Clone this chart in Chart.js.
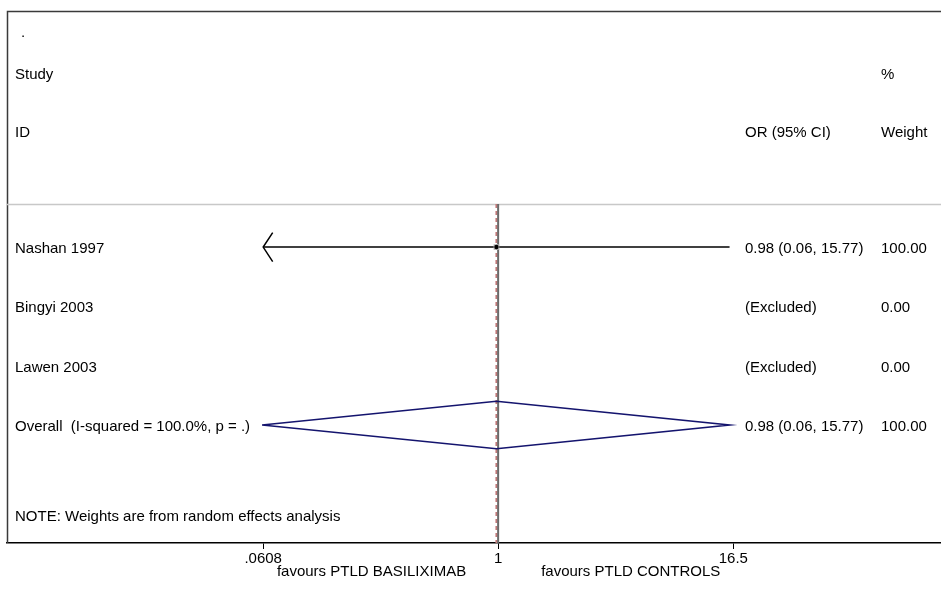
<!DOCTYPE html>
<html>
<head>
<meta charset="utf-8">
<script src="https://cdn.jsdelivr.net/npm/chart.js@4/dist/chart.umd.min.js"></script>
<style>
  html, body { margin: 0; padding: 0; background: #fff; }
</style>
</head>
<body>
<canvas id="c" width="941" height="594"></canvas>
<script>
// ---------------- data ----------------
const studies    = ['Nashan 1997', 'Bingyi 2003', 'Lawen 2003'];
const studyRows  = [1, 2, 3];
const orEst      = [0.98, null, null];
const ciLow      = [0.06, null, null];
const ciHigh     = [15.77, null, null];
const orText     = ['0.98 (0.06, 15.77)', '(Excluded)', '(Excluded)'];
const weightText = ['100.00', '0.00', '0.00'];

const overallLabel  = 'Overall  (I-squared = 100.0%, p = .)';
const overallRow    = 4;
const overallEst    = 0.98;
const overallLow    = 0.06;
const overallHigh   = 15.77;
const overallText   = '0.98 (0.06, 15.77)';
const overallWeight = '100.00';

const xTicks      = [0.0608, 1, 16.5];
const xTickLabels = ['.0608', '1', '16.5'];
const favourLeft  = 'favours PTLD BASILIXIMAB';
const favourRight = 'favours PTLD CONTROLS';
const noteText    = 'NOTE: Weights are from random effects analysis';

// ---------------- layout (not data) ----------------
const FAMILY = '"Liberation Sans", Arial, sans-serif';
const FONT = '15px ' + FAMILY;
const X_MIN = 0.00287, X_MAX = 196;
const Y_MIN = -2.98, Y_MAX = 5.99;
const ROW_HEAD_DOT = -2.574, ROW_HEAD_STUDY = -1.933, ROW_HEAD_ID = -0.955;
const ROW_SEPARATOR = 0.275, ROW_NOTE = 5.517;
const DIAMOND_HALF = 0.40;
const COL_LABEL = 15, COL_OR = 745, COL_WEIGHT = 881;
const TEXT_DY = 2;

// build datasets from arrays
const ciSegments = [];
const arrows = [];
studies.forEach((s, i) => {
  if (orEst[i] == null) return;
  const lo = Math.max(ciLow[i], xTicks[0]);
  const hi = Math.min(ciHigh[i], xTicks[xTicks.length - 1]);
  ciSegments.push({x: lo, y: studyRows[i]}, {x: hi, y: studyRows[i]}, {x: null, y: null});
  if (ciLow[i] < xTicks[0]) arrows.push({x: xTicks[0], y: studyRows[i], dir: -1});
  if (ciHigh[i] > xTicks[xTicks.length - 1]) arrows.push({x: xTicks[xTicks.length - 1], y: studyRows[i], dir: 1});
});
const points = studies.map((s, i) => orEst[i] == null ? null : {x: orEst[i], y: studyRows[i]}).filter(Boolean);

const diamond = [
  {x: overallLow, y: overallRow},
  {x: overallEst, y: overallRow - DIAMOND_HALF},
  {x: overallHigh, y: overallRow},
  {x: overallEst, y: overallRow + DIAMOND_HALF},
  {x: overallLow, y: overallRow}
];

const nullLine = [{x: 1, y: ROW_SEPARATOR}, {x: 1, y: Y_MAX}];
const overallLine = [{x: overallEst, y: ROW_SEPARATOR}, {x: overallEst, y: Y_MAX}];

const forestPlugin = {
  id: 'forest',
  beforeDatasetsDraw(chart) {
    const {ctx, chartArea: a, scales: {y}} = chart;
    const W = chart.width;
    ctx.save();
    ctx.strokeStyle = '#3a3a3a';
    ctx.lineWidth = 1.5;
    ctx.beginPath();
    ctx.moveTo(a.left + 0.5, a.bottom);
    ctx.lineTo(a.left + 0.5, a.top + 0.5);
    ctx.lineTo(W, a.top + 0.5);
    ctx.stroke();
    const sy = Math.round(y.getPixelForValue(ROW_SEPARATOR)) + 0.5;
    ctx.strokeStyle = '#c8c8c8';
    ctx.lineWidth = 1.5;
    ctx.beginPath();
    ctx.moveTo(a.left, sy);
    ctx.lineTo(W, sy);
    ctx.stroke();
    ctx.restore();
  },
  afterDatasetsDraw(chart) {
    const {ctx, chartArea: a, scales: {x, y}} = chart;
    ctx.save();
    ctx.strokeStyle = '#000';
    ctx.lineWidth = 1.5;
    arrows.forEach(ar => {
      const px = x.getPixelForValue(ar.x), py = y.getPixelForValue(ar.y);
      ctx.beginPath();
      ctx.moveTo(px - ar.dir * 9.5, py - 14.5);
      ctx.lineTo(px, py);
      ctx.lineTo(px - ar.dir * 9.5, py + 14.5);
      ctx.stroke();
    });
    ctx.fillStyle = '#000';
    ctx.font = FONT;
    ctx.textBaseline = 'middle';
    ctx.textAlign = 'left';
    const ty = v => y.getPixelForValue(v) + TEXT_DY;
    ctx.fillText('.', COL_LABEL + 6, ty(ROW_HEAD_DOT) - 4);
    ctx.fillText('Study', COL_LABEL, ty(ROW_HEAD_STUDY));
    ctx.fillText('ID', COL_LABEL, ty(ROW_HEAD_ID));
    ctx.fillText('%', COL_WEIGHT, ty(ROW_HEAD_STUDY));
    ctx.fillText('OR (95% CI)', COL_OR, ty(ROW_HEAD_ID));
    ctx.fillText('Weight', COL_WEIGHT, ty(ROW_HEAD_ID));
    studies.forEach((s, i) => {
      const py = ty(studyRows[i]);
      ctx.fillText(s, COL_LABEL, py);
      ctx.fillText(orText[i], COL_OR, py);
      ctx.fillText(weightText[i], COL_WEIGHT, py);
    });
    const oy = ty(overallRow);
    ctx.fillText(overallLabel, COL_LABEL, oy);
    ctx.fillText(overallText, COL_OR, oy);
    ctx.fillText(overallWeight, COL_WEIGHT, oy);
    ctx.fillText(noteText, COL_LABEL, ty(ROW_NOTE));
    const x1 = x.getPixelForValue(1);
    const fy = a.bottom + 29;
    ctx.textAlign = 'right';
    ctx.fillText(favourLeft, x1 - 32, fy);
    ctx.textAlign = 'left';
    ctx.fillText(favourRight, x1 + 43, fy);
    ctx.restore();
  }
};

new Chart(document.getElementById('c'), {
  type: 'scatter',
  data: {
    datasets: [
      { // point estimates (black dot)
        data: points,
        showLine: false,
        pointStyle: 'circle',
        pointRadius: 2.2,
        pointHoverRadius: 0,
        pointBackgroundColor: '#000',
        pointBorderColor: '#000',
        pointBorderWidth: 0
      },
      { // weight box behind the dot
        data: points,
        showLine: false,
        pointStyle: 'rect',
        pointRadius: 4,
        pointHoverRadius: 0,
        pointBackgroundColor: '#b4b4b4',
        pointBorderColor: '#b4b4b4',
        pointBorderWidth: 0
      },
      { // CI lines
        data: ciSegments,
        showLine: true,
        spanGaps: false,
        borderColor: '#000',
        borderWidth: 1.6,
        pointRadius: 0,
        pointHoverRadius: 0
      },
      { // overall diamond
        data: diamond,
        showLine: true,
        borderColor: '#14146e',
        borderWidth: 1.6,
        pointRadius: 0,
        pointHoverRadius: 0,
        fill: false
      },
      { // line of no effect
        data: nullLine,
        showLine: true,
        borderColor: '#6a6a6a',
        borderWidth: 2,
        pointRadius: 0,
        pointHoverRadius: 0
      },
      { // overall estimate dashed line
        data: overallLine,
        showLine: true,
        borderColor: '#c07878',
        borderWidth: 2,
        borderDash: [4, 3],
        pointRadius: 0,
        pointHoverRadius: 0
      }
    ]
  },
  options: {
    responsive: false,
    animation: false,
    events: [],
    layout: { autoPadding: false, padding: { left: 7, top: 11, right: 0, bottom: 0 } },
    plugins: { legend: { display: false }, tooltip: { enabled: false } },
    scales: {
      x: {
        type: 'logarithmic',
        min: X_MIN,
        max: X_MAX,
        afterBuildTicks(scale) { scale.ticks = xTicks.map(v => ({value: v})); },
        afterFit(scale) { scale.height = 51; },
        ticks: {
          autoSkip: false,
          maxRotation: 0,
          color: '#000',
          font: { family: FAMILY, size: 15 },
          padding: 1,
          callback: (v, i) => xTickLabels[i]
        },
        grid: { display: true, drawOnChartArea: false, drawTicks: true, tickLength: 6, color: '#000', lineWidth: 1 },
        border: { display: true, color: '#000', width: 1.5 }
      },
      y: {
        type: 'linear',
        reverse: true,
        min: Y_MIN,
        max: Y_MAX,
        display: false
      }
    }
  },
  plugins: [forestPlugin]
});
</script>
</body>
</html>
